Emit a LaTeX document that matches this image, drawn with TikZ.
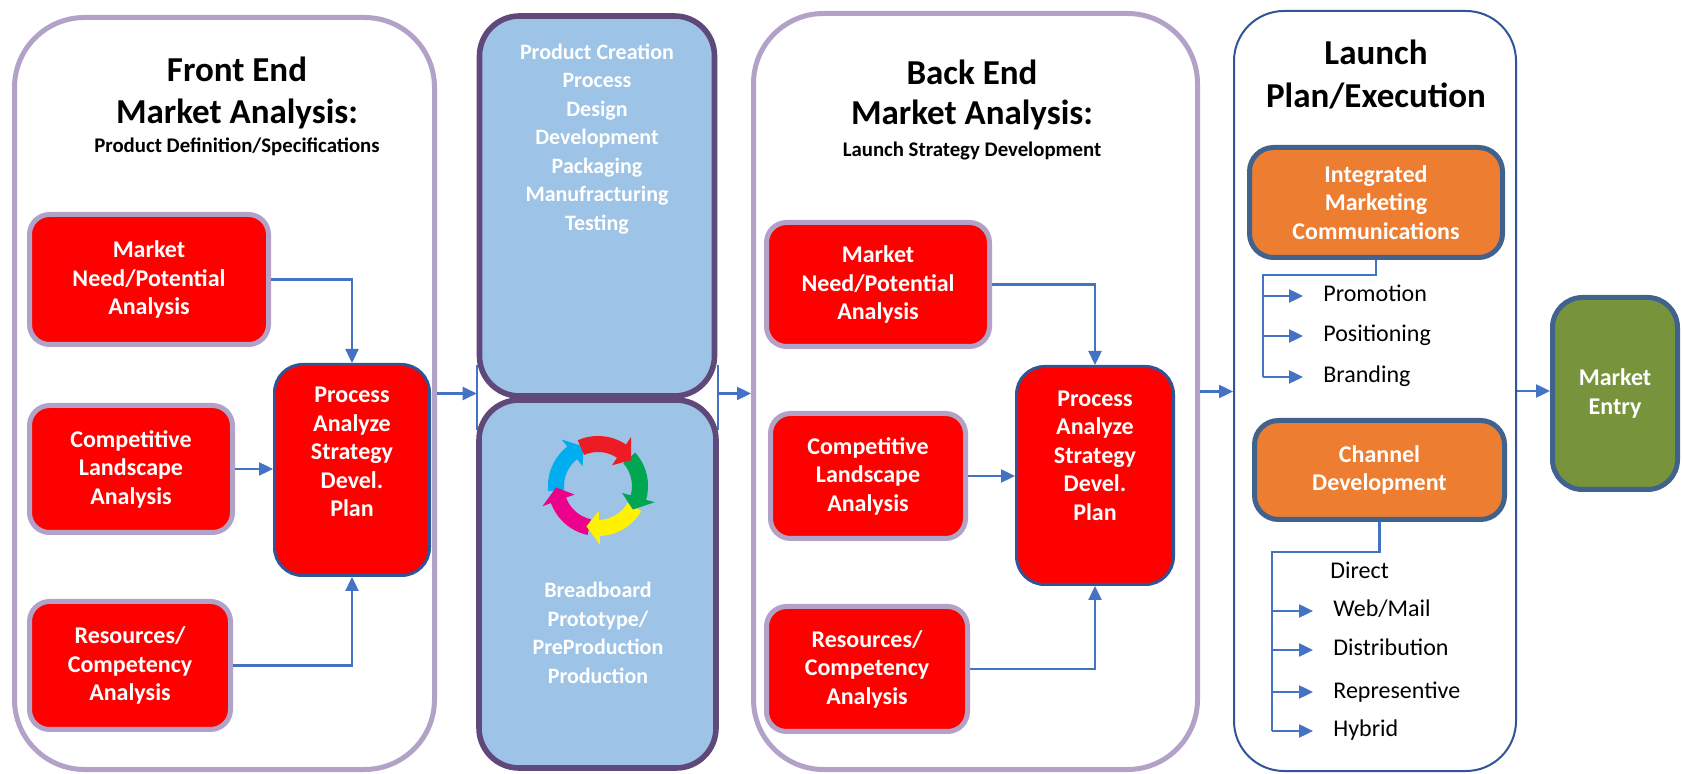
\documentclass[tikz,border=0pt]{standalone}
\usepackage{fontspec}
\setmainfont{Carlito}
\usetikzlibrary{arrows.meta}

\definecolor{lav}{HTML}{B3A2C7}
\definecolor{navyline}{HTML}{2F5597}
\definecolor{slateline}{HTML}{42628E}
\definecolor{skyfill}{HTML}{9DC3E6}
\definecolor{plumline}{HTML}{5F497A}
\definecolor{flowblue}{HTML}{4472C4}
\definecolor{orfill}{HTML}{ED7D31}
\definecolor{olivefill}{HTML}{77933C}
\definecolor{icred}{HTML}{ED1C24}
\definecolor{icgreen}{HTML}{00A651}
\definecolor{icyellow}{HTML}{FFF200}
\definecolor{icmagenta}{HTML}{EC008C}
\definecolor{iccyan}{HTML}{00AEEF}

\tikzset{
	panel/.style={draw=lav, line width=2.5pt, rounded corners=35pt},
	launchpanel/.style={draw=navyline, line width=1pt, rounded corners=25pt},
	boxtext/.style={text=white, font=\bfseries\fontsize{12}{14.25}\selectfont, align=center},
	redbox/.style={boxtext, fill=red, draw=lav, line width=2.5pt, rounded corners=10pt},
	procbox/.style={fill=red, draw=navyline, line width=1.5pt, rounded corners=14pt},
	bluebox/.style={fill=skyfill, draw=plumline, line width=2.8pt, rounded corners=20pt},
	bluetext/.style={text=white, font=\bfseries\fontsize{11}{14.25}\selectfont, align=center},
	orbox/.style={boxtext, fill=orfill, draw=slateline, line width=2.5pt, rounded corners=12pt},
	entrybox/.style={boxtext, fill=olivefill, draw=slateline, line width=2.5pt, rounded corners=15pt},
	ttl/.style={font=\bfseries\fontsize{17.5}{21}\selectfont, anchor=base, inner sep=0pt},
	sub/.style={font=\bfseries\fontsize{10.4}{12}\selectfont, anchor=base, inner sep=0pt},
	item/.style={anchor=west, inner xsep=10pt, font=\fontsize{12}{14}\selectfont, text height=8.5pt, text depth=2.5pt},
	link/.style={draw=flowblue, line width=1.2pt},
	flow/.style={link, -{Triangle[length=7pt,width=6.5pt]}}
}

\begin{document}
\begin{tikzpicture}[x=0.5pt, y=-0.5pt]
	\useasboundingbox (0,0) rectangle (1682,774);

	% front end
	\node[panel, minimum width=210pt, minimum height=376pt] (front) at (224.5,393.5) {};
	\node[ttl] at (237,82) {Front End};
	\node[ttl] at (237,124) {Market Analysis:};
	\node[sub] at (237,153) {Product Definition/Specifications};
	\node[redbox, minimum width=119.5pt, minimum height=65pt] (fneed) at (149,279.5) {Market\\Need/Potential\\Analysis};
	\node[redbox, minimum width=101.5pt, minimum height=63.5pt] (fcomp) at (131,469) {Competitive\\Landscape\\Analysis};
	\node[redbox, minimum width=100.5pt, minimum height=64pt] (fres) at (130,665.5) {Resources/\\Competency\\Analysis};
	\node[procbox, minimum width=77.5pt, minimum height=105.5pt] (fproc) at (352,470) {};
	\node[boxtext] at ([yshift=9pt]fproc.center) {Process\\Analyze\\Strategy\\Devel.\\Plan};
	\draw[flow] (fneed.east) -| (fproc.north);
	\draw[flow] (fcomp.east) -- (fcomp.east -| fproc.west);
	\draw[flow] (fres.east) -| (fproc.south);

	% product creation
	\draw[link, line width=0.8pt] (477,365) -- (477,430);
	\draw[link, line width=0.8pt] (718,365) -- (718,430);
	\node[bluebox, minimum width=117.5pt, minimum height=190pt] (mtop) at (597,206) {};
	\node[bluetext] at (597,139) {Product Creation\\Process\\Design\\Development\\Packaging\\Manufracturing\\Testing};
	\node[bluebox, minimum width=118.5pt, minimum height=184pt] (mbot) at (597.5,584) {};
	\node[bluetext] at (598,633) {Breadboard\\Prototype/\\PreProduction\\Production};
	\begin{scope}[shift={(598,486)}]
		\foreach \c/\e in {iccyan/110, icmagenta/-178, icyellow/-106, icgreen/-34, icred/38}
			\fill[\c] (\e+76:25pt) arc[start angle=\e+76, end angle=\e+18, radius=25pt]
				-- (\e+18:29.5pt) -- (\e:21pt) -- (\e+18:12.5pt) -- (\e+18:17pt)
				arc[start angle=\e+18, end angle=\e+76, radius=17pt] -- cycle;
	\end{scope}

	% back end
	\node[panel, minimum width=222pt, minimum height=378pt] (back) at (975.5,391.5) {};
	\node[ttl] at (972,85) {Back End};
	\node[ttl] at (972,125) {Market Analysis:};
	\node[sub] at (972,157) {Launch Strategy Development};
	\node[redbox, minimum width=111.5pt, minimum height=62pt] (bneed) at (878,284.5) {Market\\Need/Potential\\Analysis};
	\node[redbox, minimum width=97.5pt, minimum height=62.5pt] (bcomp) at (868,476) {Competitive\\Landscape\\Analysis};
	\node[redbox, minimum width=100.5pt, minimum height=62.5pt] (bres) at (867,669) {Resources/\\Competency\\Analysis};
	\node[procbox, minimum width=78.5pt, minimum height=109pt] (bproc) at (1095,475.5) {};
	\node[boxtext] at ([yshift=10pt]bproc.center) {Process\\Analyze\\Strategy\\Devel.\\Plan};
	\draw[flow] (bneed.east) -| (bproc.north);
	\draw[flow] (bcomp.east) -- (bcomp.east -| bproc.west);
	\draw[flow] (bres.east) -| (bproc.south);

	% launch
	\node[launchpanel, minimum width=141pt, minimum height=380pt] (launch) at (1375,391) {};
	\node[ttl] at (1376,65) {Launch};
	\node[ttl] at (1376,108) {Plan/Execution};
	\node[orbox, minimum width=126.5pt, minimum height=55pt] (imc) at (1376,202.5) {Integrated\\Marketing\\Communications};
	\coordinate (imcbus) at (1263,275);
	\node[item] (promo) at (1303,296) {Promotion};
	\node[item] (posit) at (1303,336) {Positioning};
	\node[item] (brand) at (1303,377) {Branding};
	\draw[link] (imc.south) |- (imcbus) -- (imcbus |- brand.west);
	\foreach \n in {promo,posit,brand}
		\draw[flow] (imcbus |- \n.west) -- (\n.west);

	\node[orbox, minimum width=125pt, minimum height=49.5pt] (chan) at (1379.5,470) {Channel\\Development};
	\coordinate (chbus) at (1272,552);
	\node[item] (direct) at (1310,573) {Direct};
	\node[item] (webmail) at (1313,611) {Web/Mail};
	\node[item] (distrib) at (1313,650) {Distribution};
	\node[item] (repres) at (1313,692) {Representive};
	\node[item] (hybrid) at (1313,731) {Hybrid};
	\draw[link] (chan.south) |- (chbus) -- (chbus |- hybrid.west);
	\foreach \n in {webmail,distrib,repres,hybrid}
		\draw[flow] (chbus |- \n.west) -- (\n.west);

	\node[entrybox, minimum width=62.5pt, minimum height=96pt] (entry) at (1615,393.5) {Market\\Entry};

	% stage to stage
	\draw[flow] (front.east) -- (front.east -| mtop.west);
	\draw[flow] (front.east -| mtop.east) -- (front.east -| back.west);
	\draw[flow] (back.east) -- (back.east -| launch.west);
	\draw[flow] (launch.east) -- (launch.east -| entry.west);
\end{tikzpicture}
\end{document}
